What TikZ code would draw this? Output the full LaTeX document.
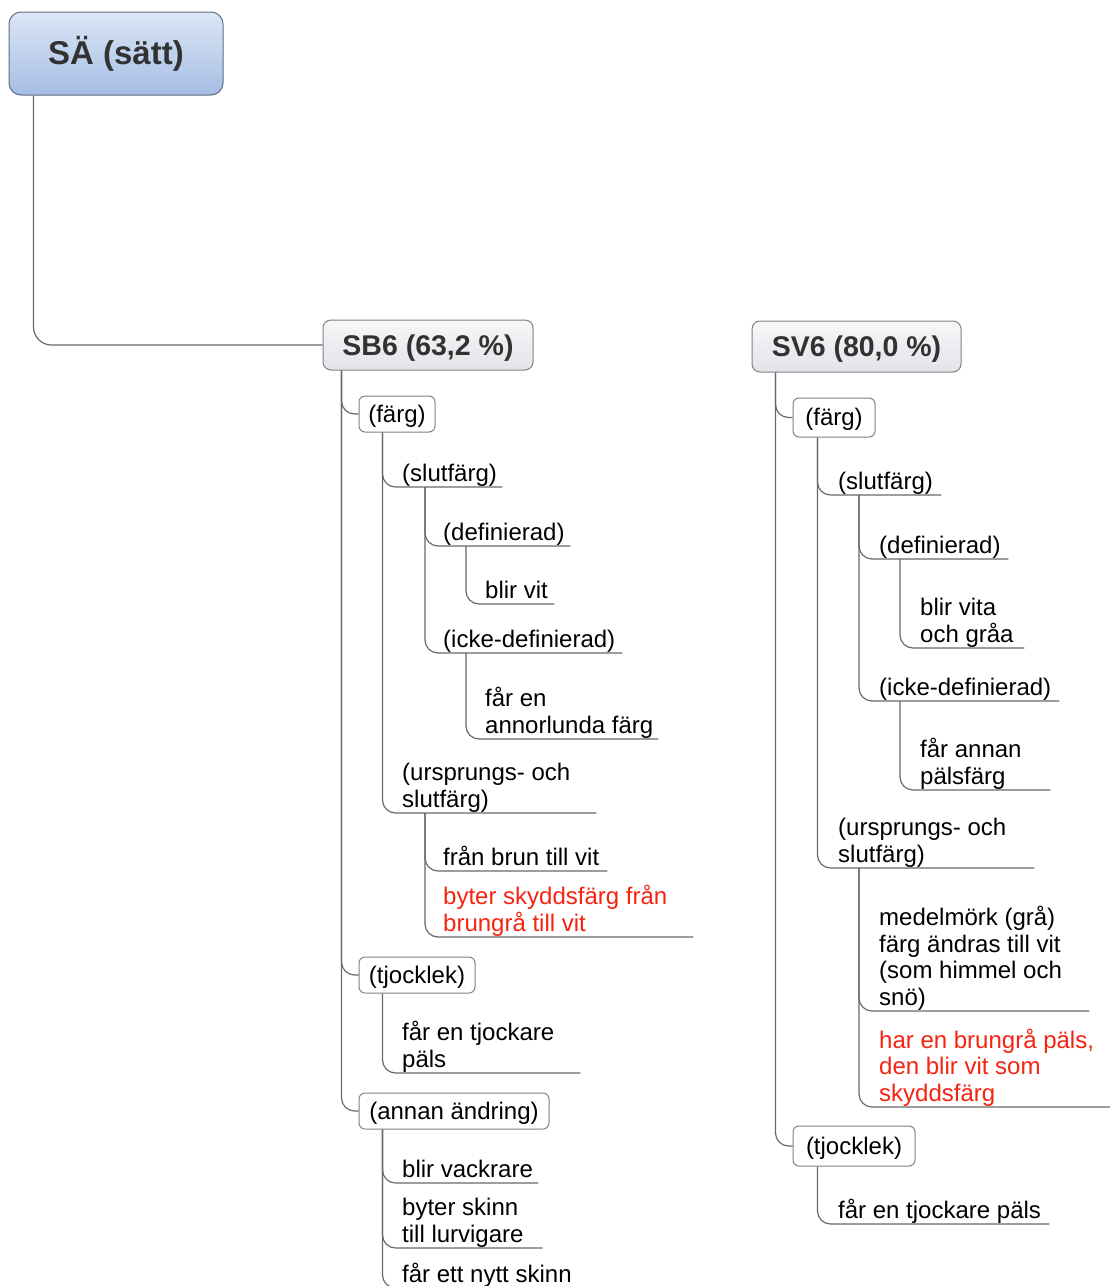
\documentclass[tikz,border=0pt]{standalone}
\usepackage{fontspec}
\setmainfont{Liberation Sans}
\usetikzlibrary{calc}
\definecolor{linec}{RGB}{105,105,105}
\definecolor{redt}{RGB}{245,35,15}
\definecolor{boxb}{RGB}{130,130,135}
\definecolor{rootb}{RGB}{95,110,135}
\definecolor{roott}{RGB}{220,230,245}
\definecolor{rootbot}{RGB}{165,190,228}
\definecolor{hdrtop}{RGB}{248,248,250}
\definecolor{hdrbot}{RGB}{226,226,232}
\definecolor{hdrtext}{RGB}{50,50,50}
\newcommand\lb[1]{\mbox{#1}}
\newcommand\leafbox[2]{\parbox[b]{#1}{\raggedright #2}}
\begin{document}
\begin{tikzpicture}[x=1pt,y=-1pt,
 conn/.style={draw=linec,line width=1.2pt,rounded corners=13pt},
 rootconn/.style={conn,rounded corners=18pt},
 rootbox/.style={draw=rootb, line width=1pt, rounded corners=12pt, top color=roott, bottom color=rootbot, minimum width=214pt, minimum height=83pt, inner sep=0pt, font=\fontsize{33}{36}\selectfont\bfseries, text=hdrtext},
 hdrbox/.style={draw=boxb, line width=1pt, rounded corners=8pt, top color=hdrtop, bottom color=hdrbot, minimum height=50pt, inner sep=0pt, text height=23pt, text depth=3pt, font=\fontsize{28.5}{32}\selectfont\bfseries, text=hdrtext},
 topicbox/.style={draw=boxb, line width=1pt, rounded corners=6pt, fill=white, minimum height=36pt, inner sep=0pt, text height=19pt, text depth=2.5pt, font=\fontsize{24}{26.5}\selectfont},
 leaf/.style={anchor=south west, inner xsep=0pt, inner ysep=5.5pt, text depth=0pt, font=\fontsize{24}{26.5}\selectfont},
 redleaf/.style={leaf, text=redt}]
\clip (0,0) rectangle (1110,1286);
\fill[white] (0,0) rectangle (1110,1286);

% boxes
\node[rootbox] (root) at (116,53.5) {SÄ (sätt)};
\node[hdrbox, minimum width=210pt] (sb6) at (428,345) {SB6 (63,2 \%)};
\node[hdrbox, minimum width=209pt, minimum height=51pt] (sv6) at (856.5,346.5) {SV6 (80,0 \%)};
\node[topicbox, minimum width=76pt] (farg1) at (397,414) {(färg)};
\node[topicbox, minimum width=116pt] (tjb1) at (417,975) {(tjocklek)};
\node[topicbox, minimum width=190pt] (andr) at (454,1111) {(annan ändring)};
\node[topicbox, minimum width=82pt, minimum height=39pt] (farg2) at (834,417.5) {(färg)};
\node[topicbox, minimum width=122pt, minimum height=40pt] (tjb2) at (854,1146) {(tjocklek)};

% left leaves
\node[leaf] (slut1) at (402,487) {\leafbox{100pt}{\lb{(slutfärg)}}};
\node[leaf] (def1) at (443,546) {\leafbox{127pt}{\lb{(definierad)}}};
\node[leaf] (vit1) at (485,604) {\leafbox{69pt}{\lb{blir vit}}};
\node[leaf] (icke1) at (443,653) {\leafbox{179pt}{\lb{(icke-definierad)}}};
\node[leaf] (annorl) at (485,739) {\leafbox{173pt}{\lb{får en}\\\lb{annorlunda färg}}};
\node[leaf] (urs1) at (402,813) {\leafbox{194pt}{\lb{(ursprungs- och}\\\lb{slutfärg)}}};
\node[leaf] (brun) at (443,871) {\leafbox{164pt}{\lb{från brun till vit}}};
\node[redleaf] (red1) at (443,937) {\leafbox{250pt}{\lb{byter skyddsfärg från}\\\lb{brungrå till vit}}};
\node[leaf] (tjock1) at (402,1073) {\leafbox{178pt}{\lb{får en tjockare}\\\lb{päls}}};
\node[leaf] (vackr) at (402,1183) {\leafbox{136pt}{\lb{blir vackrare}}};
\node[leaf] (skinn) at (402,1248) {\leafbox{140pt}{\lb{byter skinn}\\\lb{till lurvigare}}};
\node[leaf] (nytt) at (402,1288) {\leafbox{178pt}{\lb{får ett nytt skinn}}};

% right leaves
\node[leaf] (slut2) at (838,495) {\leafbox{103pt}{\lb{(slutfärg)}}};
\node[leaf] (def2) at (879,559) {\leafbox{129pt}{\lb{(definierad)}}};
\node[leaf] (vita) at (920,648) {\leafbox{104pt}{\lb{blir vita}\\\lb{och gråa}}};
\node[leaf] (icke2) at (879,701) {\leafbox{180pt}{\lb{(icke-definierad)}}};
\node[leaf] (annan2) at (920,790) {\leafbox{130pt}{\lb{får annan}\\\lb{pälsfärg}}};
\node[leaf] (urs2) at (838,868) {\leafbox{196pt}{\lb{(ursprungs- och}\\\lb{slutfärg)}}};
\node[leaf] (medel) at (879,1011) {\leafbox{210pt}{\lb{medelmörk (grå)}\\\lb{färg ändras till vit}\\\lb{(som himmel och}\\\lb{snö)}}};
\node[redleaf] (red2) at (879,1107) {\leafbox{241pt}{\lb{har en brungrå päls,}\\\lb{den blir vit som}\\\lb{skyddsfärg}}};
\node[leaf] (tjock2) at (838,1224) {\leafbox{211pt}{\lb{får en tjockare päls}}};

% connectors
\draw[rootconn] ($(root.south west)+(25,0)$) |- (sb6.west);
\foreach \c in {farg1,tjb1,andr} \draw[conn] ($(sb6.south west)+(19,0)$) |- (\c.west);
\foreach \c in {slut1,urs1} \draw[conn] ($(farg1.south west)+(24,0)$) |- (\c.south east);
\foreach \c in {def1,icke1} \draw[conn] ($(slut1.south west)+(23,0)$) |- (\c.south east);
\draw[conn] ($(def1.south west)+(23,0)$) |- (vit1.south east);
\draw[conn] ($(icke1.south west)+(23,0)$) |- (annorl.south east);
\foreach \c in {brun,red1} \draw[conn] ($(urs1.south west)+(23,0)$) |- (\c.south east);
\draw[conn] ($(tjb1.south west)+(24,0)$) |- (tjock1.south east);
\foreach \c in {vackr,skinn,nytt} \draw[conn] ($(andr.south west)+(24,0)$) |- (\c.south east);

\foreach \c in {farg2,tjb2} \draw[conn] ($(sv6.south west)+(24,0)$) |- (\c.west);
\foreach \c in {slut2,urs2} \draw[conn] ($(farg2.south west)+(25,0)$) |- (\c.south east);
\foreach \c in {def2,icke2} \draw[conn] ($(slut2.south west)+(21,0)$) |- (\c.south east);
\draw[conn] ($(def2.south west)+(21,0)$) |- (vita.south east);
\draw[conn] ($(icke2.south west)+(21,0)$) |- (annan2.south east);
\foreach \c in {medel,red2} \draw[conn] ($(urs2.south west)+(21,0)$) |- (\c.south east);
\draw[conn] ($(tjb2.south west)+(25,0)$) |- (tjock2.south east);
\end{tikzpicture}
\end{document}
